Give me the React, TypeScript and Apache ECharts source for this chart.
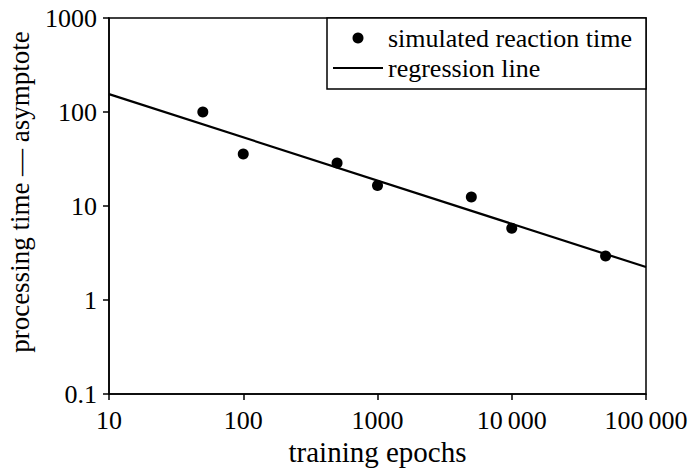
import React, { useEffect, useRef } from "react";
import * as echarts from "echarts";

const epochs = [50, 100, 500, 1000, 5000, 10000, 50000];
const reactionTime = [100, 35.7, 28.6, 16.5, 12.5, 5.8, 2.94];
const regressionX = [10, 100000];
const regressionY = [155, 2.24];
const xTickLabels: Record<number, string> = { 10: "10", 100: "100", 1000: "1000", 10000: "10\u2009000", 100000: "100\u2009000" };
const yTickLabels: Record<string, string> = { "0.1": "0.1", "1": "1", "10": "10", "100": "100", "1000": "1000" };

const FONT = "Liberation Serif";

export default function App() {
  const ref = useRef<HTMLDivElement>(null);
  useEffect(() => {
    if (!ref.current) return;
    const chart = echarts.init(ref.current, undefined, { renderer: "svg" });
    const scatterData = epochs.map((e, i) => [e, reactionTime[i]]);
    const lineData = regressionX.map((x, i) => [x, regressionY[i]]);
    chart.setOption({
      animation: false,
      backgroundColor: "#fff",
      textStyle: { fontFamily: FONT, color: "#000" },
      grid: {
        left: 109,
        right: 45,
        top: 18,
        bottom: 74,
        containLabel: false,
        outerBoundsMode: "none",
        show: true,
        borderColor: "#000",
        borderWidth: 1.5,
        backgroundColor: "transparent",
      },
      legend: {
        orient: "vertical",
        left: 333,
        top: 25,
        padding: 0,
        itemGap: 4,
        itemWidth: 50,
        itemHeight: 11,
        symbolKeepAspect: true,
        textStyle: { color: "#000", fontFamily: FONT, fontSize: 26 },
        data: [
          { name: "simulated reaction time", icon: "circle" },
          { name: "regression line", icon: "path://M0,0L50,0L50,2.2L0,2.2Z" },
        ],
        z: 20,
      },
      graphic: [
        {
          type: "rect",
          shape: { x: 327, y: 18, width: 319, height: 71 },
          style: { fill: "#fff", stroke: "#000", lineWidth: 1.5 },
          z: 10,
        },
      ],
      xAxis: {
        type: "log",
        logBase: 10,
        min: 10,
        max: 100000,
        name: "training epochs",
        nameLocation: "middle",
        nameGap: 43,
        nameTextStyle: { color: "#000", fontFamily: FONT, fontSize: 29 },
        axisLine: { show: true, lineStyle: { color: "#000", width: 1.5 } },
        axisTick: { show: true, length: 6, lineStyle: { color: "#000", width: 1.5 } },
        axisLabel: {
          color: "#000",
          fontFamily: FONT,
          fontSize: 26,
          margin: 13,
          formatter: (v: number) => xTickLabels[Math.round(v)] ?? String(v),
        },
        splitLine: { show: false },
        minorTick: { show: false },
      },
      yAxis: {
        type: "log",
        logBase: 10,
        min: 0.1,
        max: 1000,
        name: "processing time \u2014 asymptote",
        nameLocation: "middle",
        nameGap: 76,
        nameRotate: 90,
        nameTextStyle: { color: "#000", fontFamily: FONT, fontSize: 27, padding: [0, 0, 0, 28] },
        axisLine: { show: true, lineStyle: { color: "#000", width: 1.5 } },
        axisTick: { show: true, length: 6, lineStyle: { color: "#000", width: 1.5 } },
        axisLabel: {
          color: "#000",
          fontFamily: FONT,
          fontSize: 26,
          margin: 12,
          formatter: (v: number) => yTickLabels[String(+v.toPrecision(6))] ?? String(v),
        },
        splitLine: { show: false },
      },
      series: [
        {
          name: "simulated reaction time",
          type: "scatter",
          data: scatterData,
          symbol: "circle",
          symbolSize: 11,
          itemStyle: { color: "#000", opacity: 1 },
          z: 3,
        },
        {
          name: "regression line",
          type: "line",
          data: lineData,
          symbol: "none",
          lineStyle: { color: "#000", width: 2.2 },
          itemStyle: { color: "#000" },
          z: 2,
        },
      ],
    });
    return () => chart.dispose();
  }, []);
  return (
    <div
      ref={ref}
      style={{ position: "absolute", left: 0, top: 0, width: 691, height: 468 }}
    />
  );
}
